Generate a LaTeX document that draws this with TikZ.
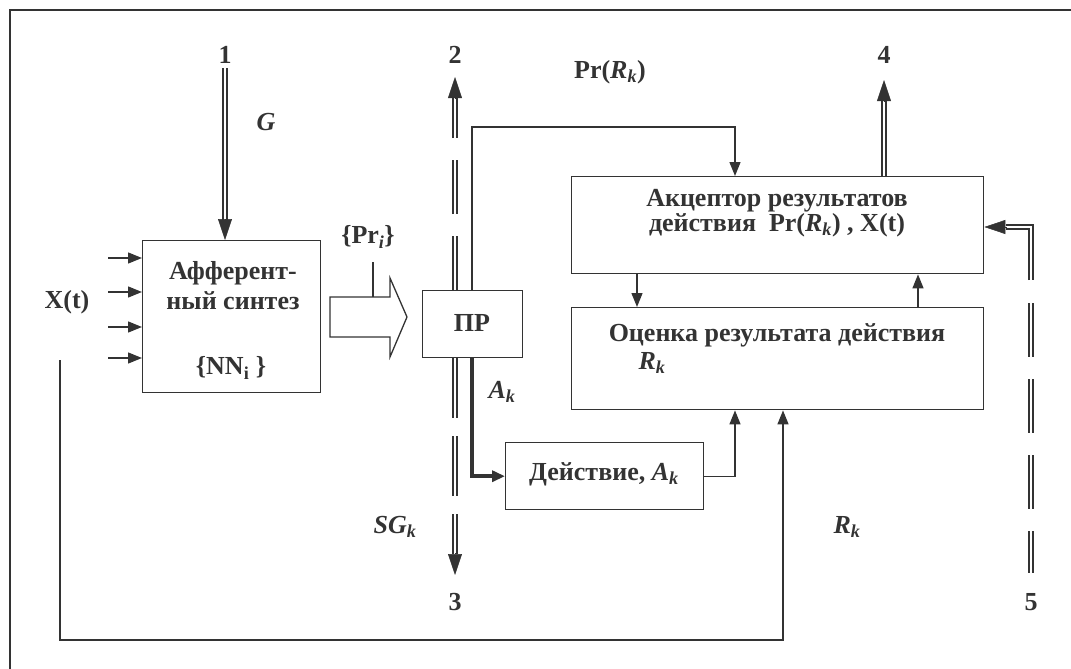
\documentclass[tikz,border=0pt]{standalone}
\usepackage{fontspec}
\setmainfont{Liberation Serif}
\usetikzlibrary{arrows.meta,calc}
\definecolor{ink}{HTML}{333333}
\newcommand{\ib}[1]{\textbf{\textit{#1}}}
\begin{document}
\begin{tikzpicture}[x=1pt,y=-1pt,
  every node/.style={text=ink, font=\bfseries\fontsize{26}{27}\selectfont},
  boxnode/.style={draw=ink, line width=1.4pt, inner sep=0pt, anchor=north west},
  lbl/.style={inner sep=0pt},
  thin/.style={draw=ink, line width=1.4pt},
  arr/.style={thin, -{Triangle[length=14pt,width=11pt]}},
  thickarr/.style={draw=ink, line width=3.8pt, -{Triangle[length=13pt,width=11pt]}},
  dbl/.style={draw=ink, line width=1.6pt, double=white, double distance=2.4pt},
  dhead/.style={draw=ink, line width=0.5pt, -{Triangle[length=21pt,width=14pt]}},
  dsh/.style={dbl, dash pattern=on 54pt off 22pt}
]
\useasboundingbox (0,0) rectangle (1071,669);
% outer frame (top and left)
\draw[ink, line width=1.6pt] (10,669) -- (10,10) -- (1071,10);

% boxes
\node[boxnode, minimum width=178pt, minimum height=152pt] (aff) at (142,240) {};
\node[boxnode, minimum width=100pt, minimum height=67pt] (pr) at (422,290) {};
\node[boxnode, minimum width=412pt, minimum height=97pt] (acc) at (571,176) {};
\node[boxnode, minimum width=412pt, minimum height=102pt] (oc) at (571,307) {};
\node[boxnode, minimum width=198pt, minimum height=67pt] (act) at (505,442) {};

% box texts
\node[lbl, align=center, font=\bfseries\fontsize{26}{30}\selectfont] (afft) at (233,286) {Афферент-\\ный синтез};
\node[lbl] (nn) at (231,368) {\{NN\textsubscript{i} \}};
\node[lbl] (prt) at (472,323) {ПР};
\node[lbl, align=center, font=\bfseries\fontsize{26}{25}\selectfont] (acct) at (777,213) {Акцептор результатов\\действия \ Pr(\ib{R}\textsubscript{\ib{k}}) , X(t)};
\node[lbl] (oct) at (777,335) {Оценка результата действия};
\node[lbl] (ocr) at (652,363) {\ib{R}\textsubscript{\ib{k}}};
\node[lbl] (actt) at (604,474) {Действие, \ib{A}\textsubscript{\ib{k}}};

% labels
\node[lbl] (n1) at (225,55) {1};
\node[lbl] (n2) at (455,55) {2};
\node[lbl] (n3) at (455,602) {3};
\node[lbl] (n4) at (884,55) {4};
\node[lbl] (n5) at (1031,602) {5};
\node[lbl] (lg) at (266,122) {\ib{G}};
\node[lbl] (lx) at (67,302) {X(t)};
\node[lbl] (lpri) at (368,237) {\{Pr\textsubscript{\ib{i}}\}};
\node[lbl] (lprr) at (610,72) {Pr(\ib{R}\textsubscript{\ib{k}})};
\node[lbl] (lak) at (502,392) {\ib{A}\textsubscript{\ib{k}}};
\node[lbl] (lsg) at (395,527) {\ib{SG}\textsubscript{\ib{k}}};
\node[lbl] (lrk) at (847,527) {\ib{R}\textsubscript{\ib{k}}};

% coordinates
\coordinate (x225) at (225,0);
\coordinate (x455) at (455,0);
\coordinate (x472) at (472,0);
\coordinate (x637) at (637,0);
\coordinate (x735) at (735,0);
\coordinate (x884) at (884,0);
\coordinate (x918) at (918,0);
\coordinate (fb) at (60,360);
\coordinate (fbc) at (783,640);
\coordinate (prtop) at (472,127);

% 1 -> afferent (double arrow)
\draw[dbl] (225,68) -- (225,220);
\draw[dhead] (225,219) -- (x225 |- aff.north);
% inputs X(t)
\foreach \yy [count=\i] in {258,292,327,358} {
  \coordinate (in\i) at (108,\yy);
  \draw[arr] (in\i) -- (in\i -| aff.west);
}
% hollow arrow
\draw[ink, line width=1.3pt, fill=white] (330,297) -- (390,297) -- (390,278) -- (407,317) -- (390,357) -- (390,337) -- (330,337) -- cycle;
\draw[thin] (373,262) -- (373,297);

% 2 (up) and 3 (down) double dashed arrows
\draw[dsh] (x455 |- pr.north) -- (455,98);
\draw[dhead] (455,99) -- (455,77);
\draw[dbl, dash pattern=on 60pt off 18pt] (x455 |- pr.south) -- (455,554);
\draw[dhead] (455,553) -- (455,575);

% PR -> acceptor via Pr(R_k)
\draw[arr] (x472 |- pr.north) -- (prtop) -| (x735 |- acc.north);
% PR -> action (thick)
\draw[thickarr] (x472 |- pr.south) |- (act.west);
% action -> estimate
\draw[arr] (act.east) -| (x735 |- oc.south);
% acceptor <-> estimate
\draw[arr] (x637 |- acc.south) -- (x637 |- oc.north);
\draw[arr] (x918 |- oc.north) -- (x918 |- acc.south);
% acceptor -> 4
\draw[dbl] (x884 |- acc.north) -- (884,100);
\draw[dhead] (884,101) -- (884,80);
% feedback X(t) -> estimate
\draw[arr] (fb) |- (fbc) -- (fbc |- oc.south);
% 5 -> acceptor
\draw[dbl, dash pattern=on 54pt off 22pt] (1031,303) -- (1031,573);
\draw[dbl] (1031,280) -- (1031,227) -- (1006,227);
\draw[dhead] (1007,227) -- (acc.east |- 0,227);
\end{tikzpicture}
\end{document}
